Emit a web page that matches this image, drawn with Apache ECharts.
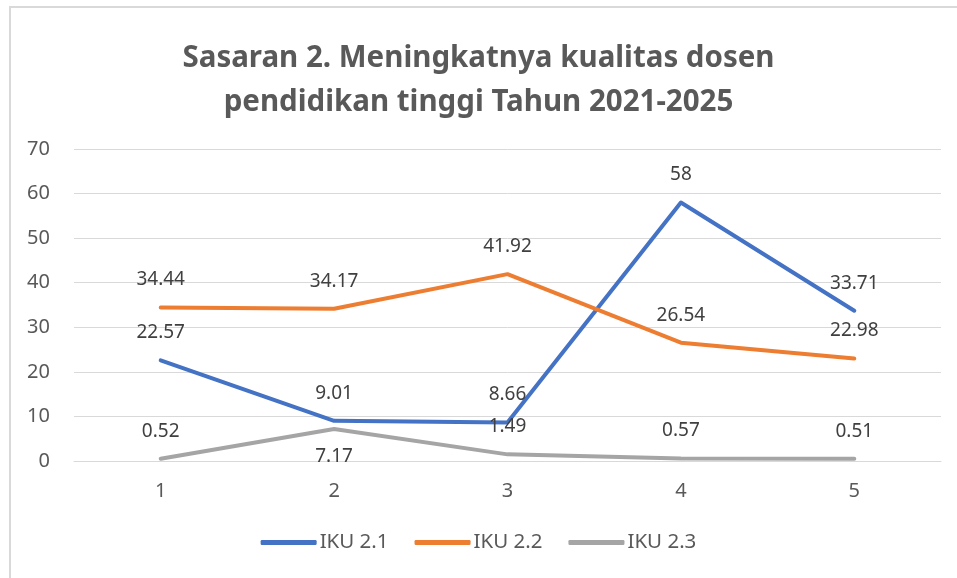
<!DOCTYPE html>
<html>
<head>
<meta charset="utf-8">
<script src="https://cdn.jsdelivr.net/npm/echarts@6/dist/echarts.min.js"></script>
<style>
  html, body { margin: 0; padding: 0; background: #fff; }
  #main { width: 957px; height: 578px; }
</style>
</head>
<body>
<div id="main"></div>
<script>
// data
var categories = ['1', '2', '3', '4', '5'];
var iku21 = [22.57, 9.01, 8.66, 58, 33.71];
var iku22 = [34.44, 34.17, 41.92, 26.54, 22.98];
var iku23 = [0.52, 7.17, 1.49, 0.57, 0.51];
var iku23Below = [false, true, false, false, false];

var fontFam = '"Noto Sans", "Open Sans", sans-serif';

function lineSeries(name, values, color, below) {
    return {
        name: name,
        type: 'line',
        data: values.map(function (v, i) {
            var item = { value: v };
            if (below && below[i]) item.label = { position: 'bottom', distance: 18 };
            return item;
        }),
        symbol: 'circle',
        symbolSize: 0.1,
        lineStyle: { width: 4, color: color, cap: 'round', join: 'round' },
        itemStyle: { color: color },
        label: {
            show: true,
            position: 'top',
            distance: 18,
            color: '#404040',
            fontSize: 19,
            fontFamily: fontFam
        }
    };
}

var myChart = echarts.init(document.getElementById('main'));
var option = {
    backgroundColor: '#fff',
    animation: false,
    graphic: [{
        type: 'rect',
        shape: { x: 10, y: 7, width: 1000, height: 700 },
        style: { fill: 'none', stroke: '#d9d9d9', lineWidth: 2 }
    }],
    title: {
        text: 'Sasaran 2. Meningkatnya kualitas dosen\npendidikan tinggi Tahun 2021-2025',
        left: 'center',
        top: 32,
        textStyle: {
            fontFamily: fontFam,
            fontSize: 29.5,
            fontWeight: 'bold',
            color: '#595959',
            lineHeight: 44
        }
    },
    legend: {
        bottom: 20,
        left: 'center',
        itemWidth: 56,
        itemHeight: 5,
        itemGap: 26,
        icon: 'roundRect',
        textStyle: { color: '#595959', fontSize: 20.5, fontFamily: fontFam, padding: [0, 0, 0, -2] },
        data: ['IKU 2.1', 'IKU 2.2', 'IKU 2.3']
    },
    grid: { left: 74, right: 16, top: 149, bottom: 117 },
    xAxis: {
        type: 'category',
        data: categories,
        boundaryGap: true,
        axisLine: { show: true, lineStyle: { color: '#d9d9d9', width: 1 } },
        axisTick: { show: false },
        axisLabel: { color: '#595959', fontSize: 20, fontFamily: fontFam, margin: 20 }
    },
    yAxis: {
        type: 'value',
        min: 0,
        max: 70,
        interval: 10,
        axisLine: { show: false },
        axisTick: { show: false },
        axisLabel: { color: '#595959', fontSize: 20, fontFamily: fontFam, margin: 24 },
        splitLine: { lineStyle: { color: '#d9d9d9', width: 1 } }
    },
    series: [
        lineSeries('IKU 2.1', iku21, '#4472C4'),
        lineSeries('IKU 2.2', iku22, '#ED7D31'),
        lineSeries('IKU 2.3', iku23, '#A5A5A5', iku23Below)
    ]
};
myChart.setOption(option);
</script>
</body>
</html>
